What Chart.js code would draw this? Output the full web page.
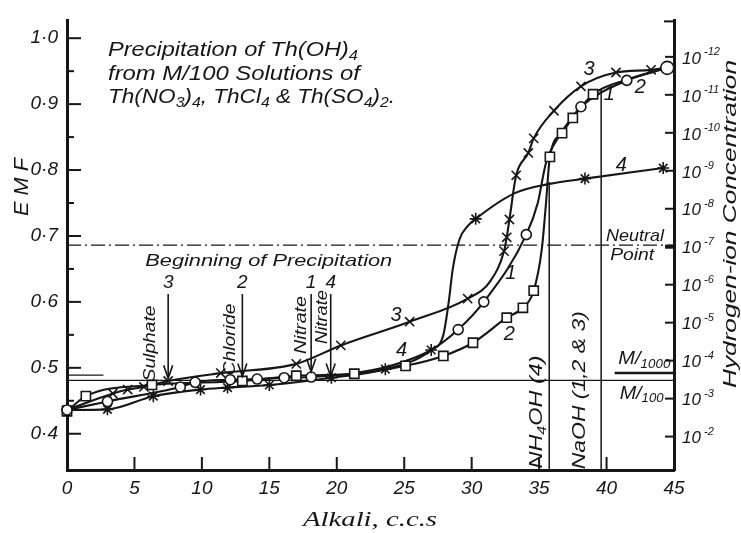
<!DOCTYPE html>
<html>
<head>
<meta charset="utf-8">
<script src="https://cdn.jsdelivr.net/npm/chart.js@4.4.1/dist/chart.umd.min.js"></script>
<style>
  html, body { margin: 0; padding: 0; background: #fff; }
  #wrap { width: 741px; height: 533px; }
</style>
</head>
<body>
<div id="wrap"><canvas id="chart" width="741" height="533"></canvas></div>
<script>
// x = alkali added (c.c.), y = EMF (volts). Markers,
// "bends" are extra points on the drawn curve where there is no marker.
const curve1Marks = [[0, 0.436], [3.0, 0.449], [8.4, 0.471], [9.5, 0.478], [12.1, 0.482], [14.1, 0.483],
  [16.1, 0.485], [18.1, 0.486], [29.0, 0.558], [30.9, 0.600], [34.05, 0.702], [38.1, 0.896], [41.5, 0.936], [44.5, 0.955]];
const curve1Bends = [[21.0, 0.491], [24.0, 0.503], [27.0, 0.527], [34.9, 0.750], [35.5, 0.810], [36.5, 0.852], [37.3, 0.876]];

const curve2Marks = [[0, 0.434], [1.4, 0.457], [6.3, 0.474], [13.0, 0.480], [17.0, 0.488], [21.3, 0.491],
  [25.1, 0.503], [27.9, 0.518], [30.1, 0.538], [32.6, 0.576], [33.8, 0.591], [34.6, 0.617],
  [35.8, 0.820], [36.7, 0.856], [37.5, 0.879], [39.0, 0.915]];
const curve2Bends = [[35.2, 0.680], [35.5, 0.747], [41.5, 0.937], [44.5, 0.955]];

const curve3Marks = [[0, 0.436], [3.4, 0.461], [4.5, 0.467], [5.7, 0.471], [7.5, 0.480], [11.4, 0.492],
  [17.0, 0.506], [20.3, 0.534], [25.4, 0.570], [29.7, 0.605], [32.4, 0.677], [32.6, 0.698], [32.8, 0.725],
  [33.3, 0.792], [34.2, 0.826], [34.6, 0.848], [36.1, 0.890], [38.1, 0.927], [40.7, 0.948], [43.3, 0.952]];
const curve3Bends = [[31.4, 0.632], [44.5, 0.956]];

const curve4Marks = [[0, 0.436], [3.0, 0.437], [6.4, 0.457], [9.9, 0.467], [11.9, 0.470], [15.0, 0.474],
  [19.6, 0.485], [23.6, 0.498], [27.0, 0.527], [30.3, 0.726], [38.4, 0.787], [44.2, 0.803]];
const curve4Bends = [[27.9, 0.550], [28.3, 0.600], [28.6, 0.650], [29.1, 0.695], [29.7, 0.715], [33.2, 0.765], [35.8, 0.779]];

// reference lines
const neutralEmf = 0.686;
const m100Emf = 0.481;
const shortDashEmf = 0.489, shortDashEnd = 2.7;
const m1000Emf = 0.492, m1000Start = 40.6;
const nh4ohX = 35.75, nh4ohTop = 0.782;
const naohX = 39.6, naohTop = 0.922;

// "Beginning of Precipitation" arrows
const arrowXs = [7.5, 13.0, 18.1, 19.55];
const arrowTips = [0.484, 0.487, 0.494, 0.487];
const arrowNums = ['3', '2', '1', '4'];
const arrowTop = 0.612;
const arrowWords = ['Sulphate', 'Chloride', 'Nitrate', 'Nitrate'];
const wordXs = [6.17, 12.1, 17.4, 18.96];
const wordYs = [0.537, 0.543, 0.565, 0.577];
const wordLens = [76, 72, 58, 54];

// curve numbers
const curveLabels = [['3', 24.4, 0.580], ['4', 24.8, 0.527], ['1', 32.9, 0.643], ['2', 32.8, 0.550],
  ['3', 38.7, 0.953], ['1', 40.2, 0.914], ['2', 42.5, 0.926], ['4', 41.1, 0.807]];

// axes
const xTickVals = [0, 5, 10, 15, 20, 25, 30, 35, 40, 45];
const xTickLabels = ['0', '5', '10', '15', '20', '25', '30', '35', '40', '45'];
const leftTickVals = [0.4, 0.5, 0.6, 0.7, 0.8, 0.9, 1.0];
const leftTickLabels = ['0·4', '0·5', '0·6', '0·7', '0·8', '0·9', '1·0'];
const leftMinorVals = [0.45, 0.55, 0.65, 0.75, 0.85, 0.95];
const rightTickPH = [2, 3, 4, 5, 6, 7, 8, 9, 10, 11, 12];
const rightTickExp = ['-2', '-3', '-4', '-5', '-6', '-7', '-8', '-9', '-10', '-11', '-12'];

const ink = '#161616';
const sans = '"Liberation Sans", Arial, sans-serif';
const serif = '"Liberation Serif", "Times New Roman", serif';

const pts = arr => arr.map(([px, py]) => ({ x: px, y: py }));
const path = (marks, bends) => pts(marks.concat(bends)).sort((p, q) => p.x - q.x);
const seg = (x0, y0, x1, y1) => [{ x: x0, y: y0 }, { x: x1, y: y1 }];

function drawRich(ctx, p, x, y, o) {
  const parts = typeof p === 'string' ? [[p, 0]] : p;
  const size = o.size;
  const fam = o.family || sans;
  const small = o.small || 0.68;
  const fonts = parts.map(([t, m]) => 'italic ' + (m ? Math.round(size * small) : size) + 'px ' + fam);
  let w = 0;
  const ws = parts.map(([t], i) => { ctx.font = fonts[i]; const ww = ctx.measureText(t).width; w += ww; return ww; });
  const sx = o.width ? o.width / w : 1;
  ctx.save();
  ctx.translate(x, y);
  if (o.rotate) ctx.rotate(o.rotate);
  ctx.scale(sx, 1);
  let cx = o.align === 'center' ? -w / 2 : o.align === 'right' ? -w : 0;
  ctx.textBaseline = 'middle';
  ctx.textAlign = 'left';
  ctx.fillStyle = ink;
  parts.forEach(([t, m], i) => {
    ctx.font = fonts[i];
    const dy = m === 1 ? size * 0.3 : m === 2 ? -size * 0.42 : 0;
    ctx.fillText(t, cx, dy);
    cx += ws[i];
  });
  ctx.restore();
}

const decor = {
  id: 'decor',
  afterDraw(chart) {
    const { ctx, chartArea: a, scales } = chart;
    const X = v => scales.x.getPixelForValue(v);
    const Y = v => scales.y.getPixelForValue(v);
    const Y2 = v => scales.y2.getPixelForValue(v);
    const line = (x0, y0, x1, y1) => { ctx.beginPath(); ctx.moveTo(x0, y0); ctx.lineTo(x1, y1); ctx.stroke(); };
    ctx.save();
    ctx.strokeStyle = ink;
    ctx.lineCap = 'butt';

    // inward tick marks
    ctx.lineWidth = 2;
    leftTickVals.forEach(v => line(a.left, Y(v), a.left + 14, Y(v)));
    leftMinorVals.forEach(v => line(a.left, Y(v), a.left + 7, Y(v)));
    xTickVals.slice(1, -1).forEach(v => line(X(v), a.bottom, X(v), a.bottom - 13));
    rightTickPH.forEach(p => line(a.right, Y2(p), a.right - 9, Y2(p)));
    line(a.right, a.top + 1, a.right - 10, a.top + 1);
    ctx.lineWidth = 4;
    line(a.right, Y2(7), a.right - 9, Y2(7));

    // right axis labels
    rightTickPH.forEach((p, i) => drawRich(ctx, [['10', 0], [' ' + rightTickExp[i], 2]], a.right + 8, Y2(p) + 2,
      { size: 17, small: 0.66 }));

    // arrows
    ctx.lineWidth = 1.6;
    arrowXs.forEach((ax, i) => {
      const px = X(ax), t = Y(arrowTips[i]);
      line(px, Y(arrowTop), px, t);
      ctx.beginPath();
      ctx.moveTo(px - 4.5, t - 13); ctx.lineTo(px, t); ctx.lineTo(px + 4.5, t - 13);
      ctx.stroke();
      drawRich(ctx, arrowNums[i], px, Y(arrowTop) - 11, { size: 19, align: 'center' });
      drawRich(ctx, arrowWords[i], X(wordXs[i]), Y(wordYs[i]),
        { size: 16, align: 'center', rotate: -Math.PI / 2, width: wordLens[i] });
    });
    drawRich(ctx, 'Beginning of Precipitation', X(5.8), Y(0.662), { size: 17, width: 247 });

    curveLabels.forEach(([t, lx, ly]) => drawRich(ctx, t, X(lx), Y(ly), { size: 20, align: 'center' }));

    drawRich(ctx, 'Neutral', X(42.1), Y(0.699), { size: 17, align: 'center', width: 58 });
    drawRich(ctx, 'Point', X(41.9), Y(0.670), { size: 17, align: 'center', width: 44 });
    drawRich(ctx, [['M/', 0], ['1000', 1]], X(42.8), Y(0.513), { size: 18, align: 'center', width: 52 });
    drawRich(ctx, [['M/', 0], ['100', 1]], X(42.6), Y(0.461), { size: 18, align: 'center', width: 44 });

    drawRich(ctx, [['NH', 0], ['4', 1], ['OH (4)', 0]], X(34.8), Y(0.433), { size: 19, align: 'center', rotate: -Math.PI / 2, width: 113 });
    drawRich(ctx, 'NaOH (1,2 & 3)', X(38.0), Y(0.466), { size: 19, align: 'center', rotate: -Math.PI / 2, width: 158 });

    // title block and axis titles
    drawRich(ctx, [['Precipitation of Th(OH)', 0], ['4', 1]], 108, 50, { size: 20, width: 250 });
    drawRich(ctx, 'from M/100 Solutions of', 108, 74, { size: 20, width: 252 });
    drawRich(ctx, [['Th(NO', 0], ['3', 1], [')', 0], ['4', 1], [', ThCl', 0], ['4', 1], [' & Th(SO', 0], ['4', 1], [')', 0], ['2', 1], ['.', 0]],
      108, 97, { size: 20, width: 287 });
    drawRich(ctx, 'E M F', 22, 187, { size: 20, align: 'center', rotate: -Math.PI / 2, width: 58 });
    drawRich(ctx, 'Hydrogen-ion Concentration', 731, 224, { size: 19, align: 'center', rotate: -Math.PI / 2, width: 328 });
    drawRich(ctx, 'Alkali, c.c.s', 370, 521, { size: 20, align: 'center', family: serif, width: 134 });
    ctx.restore();
  }
};

const curveLine = (data) => ({ data, borderColor: ink, borderWidth: 2.1, pointRadius: 0, cubicInterpolationMode: 'monotone', order: 1, clip: false });
const refLine = (data, width, dash) => ({ data, borderColor: ink, borderWidth: width, borderDash: dash || [], pointRadius: 0, tension: 0, order: 2, clip: false });
const marks = (data, style, r) => ({ data, showLine: false, pointStyle: style, pointRadius: r, pointBorderWidth: 1.6,
  pointBorderColor: ink, pointBackgroundColor: '#fff', order: 0, clip: false });

new Chart(document.getElementById('chart'), {
  type: 'line',
  data: {
    datasets: [
      marks(pts(curve1Marks), 'circle', ctx => ctx.dataIndex === curve1Marks.length - 1 ? 6.5 : 5),
      marks(pts(curve2Marks), 'rect', 6.5),
      marks(pts(curve3Marks), 'crossRot', 6.5),
      marks(pts(curve4Marks), 'star', 6),
      curveLine(path(curve1Marks, curve1Bends)),
      curveLine(path(curve2Marks, curve2Bends)),
      curveLine(path(curve3Marks, curve3Bends)),
      curveLine(path(curve4Marks, curve4Bends)),
      refLine(seg(0, neutralEmf, 45, neutralEmf), 1.2, [14, 4, 2, 4]),
      refLine(seg(0, m100Emf, 45, m100Emf), 1.2),
      refLine(seg(0, shortDashEmf, shortDashEnd, shortDashEmf), 1.2),
      refLine(seg(m1000Start, m1000Emf, 45, m1000Emf), 2.5),
      refLine(seg(nh4ohX, 0.345, nh4ohX, nh4ohTop), 1.5),
      refLine(seg(naohX, 0.345, naohX, naohTop), 1.5)
    ]
  },
  options: {
    responsive: false,
    devicePixelRatio: 1,
    animation: false,
    layout: { padding: { top: 12, left: 0, right: 0, bottom: 0 } },
    plugins: { legend: { display: false }, tooltip: { enabled: false } },
    scales: {
      x: {
        type: 'linear', min: 0, max: 45,
        afterBuildTicks: s => { s.ticks = xTickVals.map(v => ({ value: v })); },
        afterFit: s => { s.height = 63; },
        grid: { display: false, drawTicks: false },
        border: { display: true, color: ink, width: 3 },
        ticks: { padding: 7, color: ink, maxRotation: 0, font: { family: sans, size: 19, style: 'italic' },
          callback: v => xTickLabels[xTickVals.indexOf(v)] }
      },
      y: {
        type: 'linear', position: 'left', min: 0.345, max: 1.027,
        afterBuildTicks: s => { s.ticks = leftTickVals.map(v => ({ value: v })); },
        afterFit: s => { s.width = 67; },
        grid: { display: false, drawTicks: false },
        border: { display: true, color: ink, width: 3 },
        ticks: { padding: 9, color: ink, font: { family: sans, size: 19, style: 'italic' },
          callback: v => leftTickLabels[leftTickVals.indexOf(v)] }
      },
      y2: {
        type: 'linear', position: 'right', min: 1.12, max: 12.96,
        afterFit: s => { s.width = 67; },
        grid: { display: false, drawTicks: false },
        border: { display: true, color: ink, width: 3 },
        ticks: { display: false }
      }
    }
  },
  plugins: [decor]
});
</script>
</body>
</html>
